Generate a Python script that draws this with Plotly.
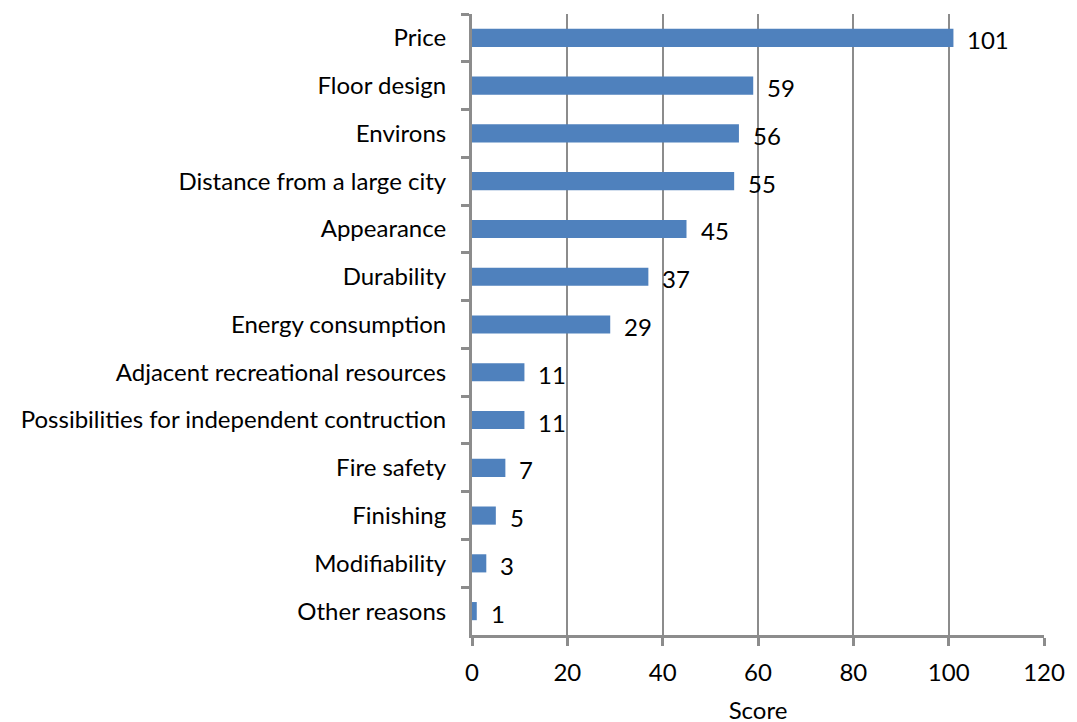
import plotly.graph_objects as go

categories = ["Price", "Floor design", "Environs", "Distance from a large city", "Appearance",
              "Durability", "Energy consumption", "Adjacent recreational resources",
              "Possibilities for independent contruction", "Fire safety", "Finishing",
              "Modifiability", "Other reasons"]
scores = [101, 59, 56, 55, 45, 37, 29, 11, 11, 7, 5, 3, 1]
x_ticks = [0, 20, 40, 60, 80, 100, 120]

FONT = "Lato"
FS = 24
GRAY = "#8c8c8c"

fig = go.Figure()
fig.add_trace(go.Bar(
    x=scores, y=categories, orientation="h",
    marker=dict(color="#4f81bd", line=dict(width=0)),
    hoverinfo="x+y",
))

for c, v in zip(categories, scores):
    fig.add_annotation(x=v, y=c, text=str(v), showarrow=False, xanchor="left",
                       yanchor="middle", xshift=12, yshift=-2,
                       font=dict(family=FONT, size=FS, color="#000000"))

fig.update_layout(
    width=1077, height=722,
    margin=dict(l=464, r=41, t=6, b=95),
    paper_bgcolor="white", plot_bgcolor="white",
    bargap=0.62,
    showlegend=False,
    font=dict(family=FONT, size=FS, color="#000000"),
    xaxis=dict(
        range=[0, 120], tickvals=x_ticks, ticktext=[str(t) for t in x_ticks],
        showgrid=True, gridcolor=GRAY, gridwidth=2,
        showline=True, linecolor=GRAY, linewidth=3,
        ticks="outside", ticklen=8, tickwidth=3, tickcolor=GRAY,
        zeroline=False, automargin=False,
        tickfont=dict(family=FONT, size=FS),
        ticklabelstandoff=6,
        title=dict(text="Score", font=dict(family=FONT, size=FS), standoff=18),
    ),
    yaxis=dict(
        autorange=False, range=[12.5, -0.5],
        categoryorder="array", categoryarray=categories,
        showline=True, linecolor=GRAY, linewidth=3,
        ticks="outside", ticklen=8, tickwidth=3, tickcolor=GRAY,
        tickson="boundaries",
        showgrid=False, zeroline=False, automargin=False,
        tickfont=dict(family=FONT, size=FS),
        ticklabelstandoff=18,
    ),
)

fig.write_html("out.html")
